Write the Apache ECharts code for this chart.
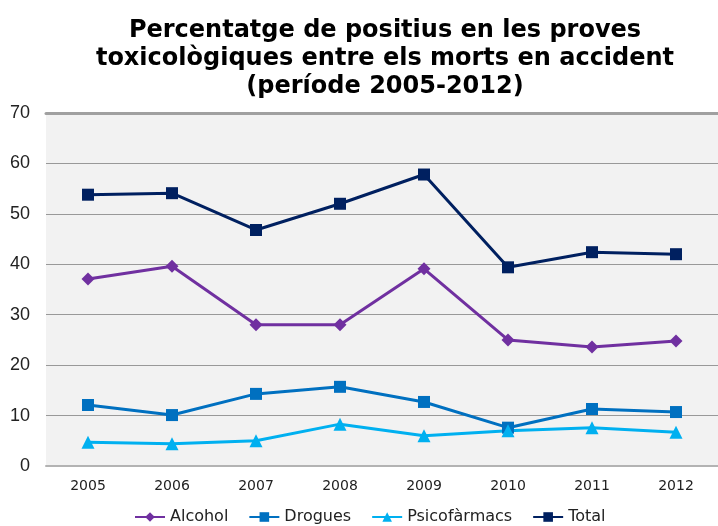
<!DOCTYPE html>
<html>
<head>
<meta charset="utf-8">
<script src="https://cdn.jsdelivr.net/npm/echarts@6/dist/echarts.min.js"></script>
<style>
  html, body { margin: 0; padding: 0; background: #fff; }
  #chart { width: 718px; height: 526px; }
</style>
</head>
<body>
<div id="chart"></div>
<script>
var years = ['2005', '2006', '2007', '2008', '2009', '2010', '2011', '2012'];
var alcohol = [37.1, 39.6, 28.0, 28.0, 39.1, 25.0, 23.6, 24.8];
var drogues = [12.1, 10.1, 14.3, 15.7, 12.7, 7.6, 11.3, 10.7];
var psicofarmacs = [4.7, 4.4, 5.0, 8.3, 6.0, 7.0, 7.6, 6.7];
var total = [53.8, 54.1, 46.8, 52.0, 57.8, 39.4, 42.4, 42.0];

var chart = echarts.init(document.getElementById('chart'));

function lineSeries(name, data, color, symbol, size) {
    return {
        name: name,
        type: 'line',
        data: data,
        symbol: symbol,
        symbolSize: size,
        itemStyle: { color: color },
        lineStyle: { color: color, width: 3 }
    };
}

chart.setOption({
    animation: false,
    title: {
        text: 'Percentatge de positius en les proves\ntoxicològiques entre els morts en accident\n(període 2005-2012)',
        left: 380,
        top: 12,
        textAlign: 'center',
        textStyle: {
            fontFamily: 'DejaVu Sans',
            fontWeight: 'bold',
            fontSize: 24,
            lineHeight: 28,
            color: '#000'
        }
    },
    grid: {
        left: 46,
        top: 113,
        width: 679,
        height: 353,
        show: true,
        backgroundColor: '#f2f2f2',
        borderWidth: 0
    },
    legend: {
        left: 129,
        top: 504,
        itemWidth: 30,
        itemHeight: 12,
        itemGap: 20,
        textStyle: { fontFamily: 'DejaVu Sans', fontSize: 16, color: '#222' },
        data: ['Alcohol', 'Drogues', 'Psicofàrmacs', 'Total']
    },
    xAxis: [{
        type: 'category',
        data: years,
        boundaryGap: true,
        axisLine: { lineStyle: { color: '#b3b3b3', width: 2 } },
        axisTick: { show: false },
        axisLabel: { fontFamily: 'DejaVu Sans', fontSize: 14, color: '#222', margin: 13 }
    }, {
        type: 'category',
        data: years,
        position: 'top',
        axisLine: { lineStyle: { color: '#a0a0a0', width: 3 } },
        axisTick: { show: false },
        axisLabel: { show: false }
    }],
    yAxis: {
        type: 'value',
        min: 0,
        max: 70,
        interval: 10,
        axisLine: { show: false },
        axisTick: { show: false },
        axisLabel: { fontFamily: 'Liberation Sans', fontSize: 18, color: '#222', margin: 16 },
        splitLine: { lineStyle: { color: '#999', width: 1 } }
    },
    series: [
        lineSeries('Alcohol', alcohol, '#7030a0', 'diamond', 13),
        lineSeries('Drogues', drogues, '#0070c0', 'rect', 12),
        lineSeries('Psicofàrmacs', psicofarmacs, '#00b0f0', 'triangle', 13),
        lineSeries('Total', total, '#002060', 'rect', 12)
    ]
});
</script>
</body>
</html>
